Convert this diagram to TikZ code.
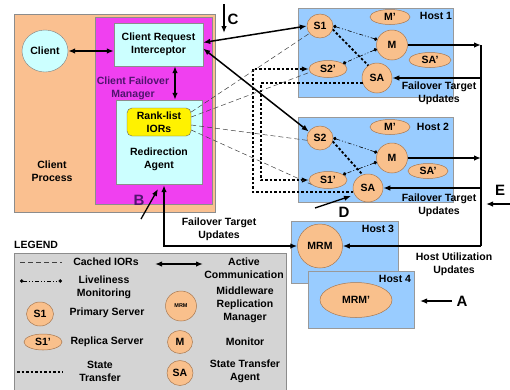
\documentclass[tikz,border=0pt]{standalone}
\usepackage{fontspec}
\setmainfont{Liberation Sans}
\usetikzlibrary{arrows.meta,shapes.geometric,calc}
\definecolor{peach}{HTML}{FAC090}
\definecolor{mag}{HTML}{F040F0}
\definecolor{lcyan}{HTML}{CCFFFF}
\definecolor{hostblue}{HTML}{99CCFF}
\definecolor{srvfill}{HTML}{F9C08C}
\definecolor{srvline}{HTML}{A87850}
\definecolor{legfill}{HTML}{D4D4D4}
\definecolor{purp}{HTML}{50146E}
\begin{document}
\begin{tikzpicture}[x=1pt,y=-1pt,
  font=\fontsize{10.5}{13}\selectfont\bfseries,
  frame/.style={draw=black!45, line width=0.6pt},
  hostbox/.style={draw=black!40, line width=0.6pt, fill=hostblue},
  srv/.style={ellipse, draw=srvline, fill=srvfill, inner sep=0pt, line width=0.5pt},
  txt/.style={align=center, inner sep=0pt},
  ac/.style={{Latex[length=7pt,width=5.5pt]}-{Latex[length=7pt,width=5.5pt]}, line width=1.5pt},
  one/.style={-{Latex[length=7pt,width=5.5pt]}, line width=1.5pt},
  ior/.style={dash pattern=on 5pt off 3pt, line width=0.5pt, draw=black!75},
  live/.style={{Circle[length=3.5pt]}-{Circle[length=3.5pt]}, dash pattern=on 4pt off 2pt on 1pt off 2pt on 1pt off 2pt, line width=0.6pt},
  stx/.style={dash pattern=on 2.5pt off 2pt, line width=1.8pt},
  stxa/.style={stx, -{Latex[length=7pt,width=5.5pt]}},
  big/.style={font=\fontsize{15}{15}\selectfont\bfseries, inner sep=0pt},
]
\useasboundingbox (0,0) rectangle (510,389);

% ---------------- client side ----------------
\draw[frame, fill=peach] (14,14) rectangle (215,212);
\draw[frame, fill=mag] (95,17) rectangle (212,204);
\node[txt] (cp) at (52,171) {Client\\Process};
\node[ellipse, draw=black!50, fill=lcyan, minimum width=46pt, minimum height=42pt, inner sep=0pt] (client) at (45,51) {Client};
\node[draw=black!45, fill=lcyan, minimum width=89pt, minimum height=43pt, align=center, inner sep=0pt] (cri) at (158.5,44.5) {Client Request\\Interceptor};
\node[txt, text=purp] (cfm) at (133,88) {Client Failover\\Manager};
\node[draw=black!45, fill=lcyan, minimum width=86pt, minimum height=84pt, inner sep=0pt] (ra) at (159,142) {};
\node[txt] (ratext) at (159,159.5) {Redirection\\Agent};
\node[draw=black!60, fill=yellow, rounded corners=5pt, minimum width=64pt, minimum height=28pt, align=center, inner sep=0pt] (rl) at (159,122) {Rank-list\\IORs};

% ---------------- hosts ----------------
\draw[hostbox] (298,8) rectangle (453,97);
\draw[hostbox] (298,117) rectangle (453,202);
\draw[hostbox] (291,221) rectangle (398,283);
\draw[hostbox] (308,271) rectangle (414,328);
\node[txt] (h1) at (436,16) {Host 1};
\node[txt] (h2) at (433,127) {Host 2};
\node[txt] (h3) at (378,229) {Host 3};
\node[txt] (h4) at (395,279) {Host 4};

% host 1
\node[srv, minimum width=26pt, minimum height=24pt] (s1) at (320,26) {S1};
\node[srv, minimum width=40pt, minimum height=15pt] (mp1) at (390,17) {M'};
\node[srv, minimum width=31pt, minimum height=30pt] (m1) at (392,45) {M};
\node[srv, minimum width=42pt, minimum height=15pt] (sap1) at (430,60) {SA'};
\node[srv, minimum width=38pt, minimum height=17pt] (s2p) at (328,69) {S2'};
\node[srv, minimum width=30pt, minimum height=30pt] (sa1) at (377,78) {SA};
% host 2
\node[srv, minimum width=40pt, minimum height=15pt] (mp2) at (390,127) {M'};
\node[srv, minimum width=26pt, minimum height=24pt] (s2) at (320,138) {S2};
\node[srv, minimum width=31pt, minimum height=30pt] (m2) at (392,158) {M};
\node[srv, minimum width=40pt, minimum height=15pt] (sap2) at (428,171) {SA'};
\node[srv, minimum width=38pt, minimum height=17pt] (s1p) at (328,180) {S1'};
\node[srv, minimum width=30pt, minimum height=28pt] (sa2) at (368,188) {SA};
% host 3, 4
\node[srv, minimum width=45pt, minimum height=44pt] (mrm) at (320,246) {MRM};
\node[srv, minimum width=72pt, minimum height=35pt] (mrmp) at (356,300) {MRM'};

% ---------------- state transfer ----------------
\coordinate (ix) at (261,0);
\coordinate (ox) at (253,0);
\draw[stxa] (sa1.200) -- (sa1.200 -| ix) -- (ix |- s1p.west) -- (s1p.west);
\draw[stxa] (sa2.195) -- (sa2.195 -| ox) -- (ox |- s2p.west) -- (s2p.west);
\draw[stx] (s1.345) -- (sa1.125);
\draw[stx] (s2.345) -- (sa2.112);

% ---------------- liveliness ----------------
\draw[live] (s1.east) -- (m1.160);
\draw[live] (m1.195) -- (s2p.20);
\draw[live] (s2.east) -- (m2.160);
\draw[live] (m2.195) -- (s1p.20);

% ---------------- cached IORs ----------------
\draw[ior] ($(rl.east)+(0,-10)$) -- (s1.215);
\draw[ior] ($(rl.east)+(0,-5)$) -- (s2p.190);
\draw[ior] ($(rl.east)+(0,3)$) -- (s2.190);
\draw[ior] ($(rl.east)+(0,8)$) -- (s1p.195);

% ---------------- active communication ----------------
\draw[ac] (client.east) -- (client.east -| cri.west);
\coordinate (vx) at (175,0);
\draw[ac] (cri.south -| vx) -- (ra.north -| vx);
\draw[ac] ($(cri.east)+(0,-2)$) -- (s1.west);
\draw[ac] ($(cri.east)+(0,4)$) -- (s2.150);

% failover target updates to client
\coordinate (fx) at (164,0);
\draw[ac] (mrm.west) -| ($(ra.south -| fx)+(0,1)$);
\node[txt] (ftu0) at (219,229.5) {Failover Target\\Updates};

% bus
\coordinate (bus) at (481,0);
\draw[one] (m1.east) -- (m1.east -| bus);
\draw[one] (m2.east) -- (m2.east -| bus);
\draw[line width=1.5pt] (m1.east -| bus) -- (bus |- mrm.east);
\draw[one] (bus |- sa1.east) -- (sa1.east);
\draw[one] (bus |- sa2.east) -- (sa2.east);
\draw[one] (bus |- mrm.east) -- (mrm.east);
\node[txt] (ftu1) at (439,93.5) {Failover Target\\Updates};
\node[txt] (ftu2) at (439,205) {Failover Target\\Updates};
\node[txt] (huu) at (454,264) {Host Utilization\\Updates};

% ---------------- letters ----------------
\coordinate (c0) at (224,4);  \coordinate (c1) at (224,33);
\draw[one, line width=1.3pt] (c0) -- (c1);
\node[big] (lc) at (233,19) {C};
\coordinate (b0) at (141,219); \coordinate (b1) at (158,189);
\draw[one, line width=1.3pt] (b0) -- (b1);
\node[big, text=purp] (lb) at (139,200) {B};
\coordinate (d0) at (315,208); \coordinate (d1) at (351,196);
\draw[one, line width=1.3pt] (d0) -- (d1);
\node[big] (ld) at (344,212) {D};
\coordinate (e0) at (510,204); \coordinate (e1) at (486,204);
\draw[one, line width=1.3pt] (e0) -- (e1);
\node[big] (le) at (500,190) {E};
\coordinate (a0) at (452,301); \coordinate (a1) at (420,301);
\draw[one, line width=1.3pt] (a0) -- (a1);
\node[big] (la) at (462,301) {A};

% ---------------- legend ----------------
\node[inner sep=0pt, anchor=west] (legt) at (14,245) {LEGEND};
\draw[draw=black!45, line width=0.6pt, fill=legfill] (14,253) rectangle (286,395);
\coordinate (l1a) at (20,262); \coordinate (l1b) at (62,262);
\draw[ior] (l1a) -- (l1b);
\node[txt] (lt1) at (106,262) {Cached IORs};
\coordinate (l2a) at (155,264); \coordinate (l2b) at (203,264);
\draw[ac] (l2a) -- (l2b);
\node[txt] (lt2) at (244,268) {Active\\Communication};
\coordinate (l3a) at (20,281); \coordinate (l3b) at (62,281);
\draw[live] (l3a) -- (l3b);
\node[txt] (lt3) at (104,287) {Liveliness\\Monitoring};
\node[srv, minimum width=31pt, minimum height=30pt, font=\fontsize{5.5}{6}\selectfont\bfseries] (lmrm) at (181,306) {MRM};
\node[txt] (lt4) at (245,305) {Middleware\\Replication\\Manager};
\node[srv, minimum width=27pt, minimum height=24pt] (ls1) at (40,314) {S1};
\node[txt] (lt5) at (107,313) {Primary Server};
\node[srv, minimum width=38pt, minimum height=16pt] (ls1p) at (43,342) {S1'};
\node[txt] (lt6) at (107,342) {Replica Server};
\node[srv, minimum width=25pt, minimum height=23pt] (lm) at (180,342) {M};
\node[txt] (lt7) at (245,342) {Monitor};
\coordinate (l4a) at (17,372); \coordinate (l4b) at (63,372);
\draw[stx] (l4a) -- (l4b);
\node[txt] (lt8) at (100,371) {State\\Transfer};
\node[srv, minimum width=26pt, minimum height=25pt] (lsa) at (180,373) {SA};
\node[txt] (lt9) at (245,371) {State Transfer\\Agent};
\end{tikzpicture}
\end{document}
